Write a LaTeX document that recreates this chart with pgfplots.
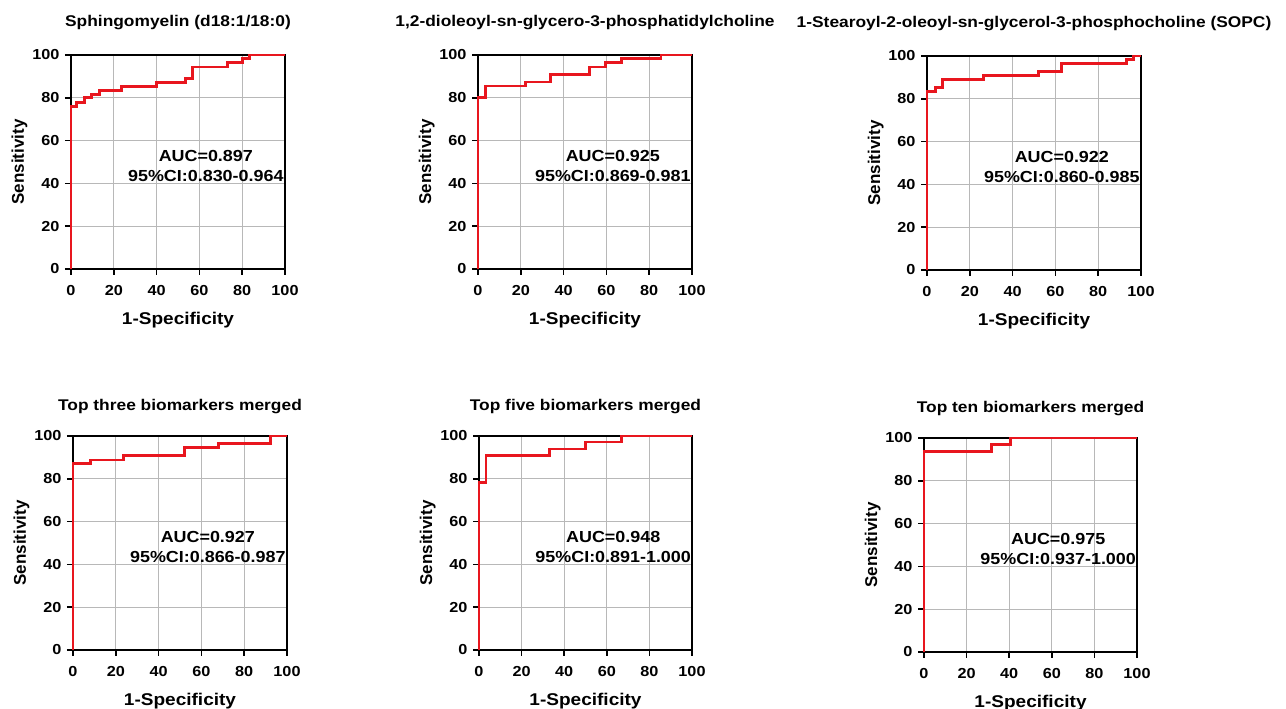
\documentclass[border=0pt]{standalone}
\usepackage{pgfplots}
\pgfplotsset{compat=1.18}
\usepackage{fontspec}
\setmainfont{Liberation Sans}
\definecolor{rocred}{RGB}{232,22,30}
\pgfplotsset{roc/.style={
  scale only axis, width=214pt, height=214pt,
  xmin=0, xmax=100, ymin=0, ymax=100,
  xtick={0,20,...,100}, ytick={0,20,...,100},
  grid=major, major grid style={black!28, line width=0.9pt},
  axis line style={line width=1.6pt},
  every tick/.style={black, line width=1.6pt},
  tick align=outside, tickpos=left, major tick length=6pt,
  ticklabel style={font=\bfseries\fontsize{14.5}{16}\selectfont, xscale=1.12},
  xticklabel style={yshift=-6.5pt},
  yticklabel style={xshift=-1.5pt},
  /pgf/number format/assume math mode=true,
  xlabel={1-Specificity}, ylabel={Sensitivity},
  xlabel style={font=\bfseries\fontsize{17}{19}\selectfont, xscale=1.12, at={(axis description cs:0.5,0)}, anchor=base, yshift=-56pt},
  ylabel style={font=\bfseries\fontsize{17}{19}\selectfont, at={(axis description cs:0,0.5)}, anchor=base, yshift=47pt},
  title style={font=\bfseries\fontsize{15.5}{17}\selectfont, xscale=1.12, at={(axis description cs:0.5,1)}, anchor=base, yshift=22pt},
  anchor=south west, clip=false,
}}
\newcommand{\auc}[2]{\node[font=\bfseries\fontsize{16}{20}\selectfont, xscale=1.12, align=center] at (axis cs:63,48.2) {AUC=#1\\95\%CI:#2};}
\begin{document}
\begin{tikzpicture}
\useasboundingbox (0,0) rectangle (1286pt,709pt);
\begin{axis}[roc, at={(71pt,440pt)}, title={Sphingomyelin (d18:1/18:0)}]
\addplot[rocred, line width=2.9pt] coordinates {(0,0)(0,76)(2.6,76)(2.6,78)(6.2,78)(6.2,80)(9.7,80)(9.7,81.6)(13.2,81.6)(13.2,83.6)(23.4,83.6)(23.4,85.2)(40,85.2)(40,87.2)(53.7,87.2)(53.7,89)(56.7,89)(56.7,94.4)(73.2,94.4)(73.2,96.6)(80.2,96.6)(80.2,98.3)(83.3,98.3)(83.3,100)(100,100)};
\auc{0.897}{0.830-0.964}
\end{axis}
\begin{axis}[roc, at={(478pt,440pt)}, title={1,2-dioleoyl-sn-glycero-3-phosphatidylcholine}]
\addplot[rocred, line width=2.9pt] coordinates {(0,0)(0,80.1)(3.4,80.1)(3.4,85.5)(22.1,85.5)(22.1,87.4)(33.8,87.4)(33.8,91)(52.2,91)(52.2,94.4)(59.5,94.4)(59.5,96.4)(67,96.4)(67,98.3)(85.5,98.3)(85.5,100)(100,100)};
\auc{0.925}{0.869-0.981}
\end{axis}
\begin{axis}[roc, at={(927pt,439pt)}, title={1-Stearoyl-2-oleoyl-sn-glycerol-3-phosphocholine (SOPC)}]
\addplot[rocred, line width=2.9pt] coordinates {(0,0)(0,83.4)(3.9,83.4)(3.9,85.2)(7.3,85.2)(7.3,89.1)(26.2,89.1)(26.2,90.7)(52.2,90.7)(52.2,92.7)(62.8,92.7)(62.8,96.6)(93.1,96.6)(93.1,98.4)(96.6,98.4)(96.6,100)(100,100)};
\auc{0.922}{0.860-0.985}
\end{axis}
\begin{axis}[roc, at={(73pt,59pt)}, title={Top three biomarkers merged}, title style={yshift=-3pt}]
\addplot[rocred, line width=2.9pt] coordinates {(0,0)(0,87.1)(8.1,87.1)(8.1,88.8)(23.8,88.8)(23.8,90.7)(52.2,90.7)(52.2,94.5)(68.2,94.5)(68.2,96.4)(92.4,96.4)(92.4,100)(100,100)};
\auc{0.927}{0.866-0.987}
\end{axis}
\begin{axis}[roc, at={(479pt,59pt)}, width=213pt, title={Top five biomarkers merged}, title style={yshift=-3pt}]
\addplot[rocred, line width=2.9pt] coordinates {(0,0)(0,78.1)(3.3,78.1)(3.3,90.9)(33.3,90.9)(33.3,93.9)(50,93.9)(50,97.2)(66.9,97.2)(66.9,100)(100,100)};
\auc{0.948}{0.891-1.000}
\end{axis}
\begin{axis}[roc, at={(924pt,57pt)}, width=213pt, title={Top ten biomarkers merged}, title style={yshift=-3pt}]
\addplot[rocred, line width=2.9pt] coordinates {(0,0)(0,93.6)(31.7,93.6)(31.7,96.9)(40.8,96.9)(40.8,100)(100,100)};
\auc{0.975}{0.937-1.000}
\end{axis}
\end{tikzpicture}
\end{document}
